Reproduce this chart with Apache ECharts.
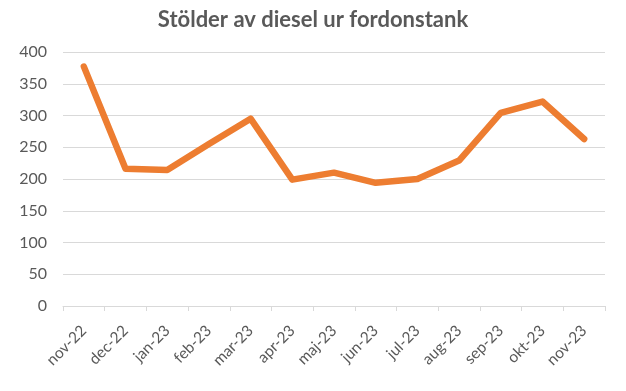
<!DOCTYPE html>
<html><head><meta charset="utf-8">
<script src="https://cdn.jsdelivr.net/npm/echarts@6/dist/echarts.min.js"></script>
<style>html,body{margin:0;padding:0;background:#fff}#c{width:626px;height:391px}</style>
</head><body><div id="c"></div>
<script>
var title = "Stölder av diesel ur fordonstank";
var categories = ["nov-22","dec-22","jan-23","feb-23","mar-23","apr-23","maj-23","jun-23","jul-23","aug-23","sep-23","okt-23","nov-23"];
var values = [377, 216, 214, 255, 295, 199, 210, 194, 200, 229, 304, 322, 263];
var yTicks = [0, 50, 100, 150, 200, 250, 300, 350, 400];

var chart = echarts.init(document.getElementById('c'), null, {renderer:'canvas'});
chart.setOption({
  animation: false,
  backgroundColor: '#fff',
  title: {
    text: title, left: 'center', top: 4,
    textStyle: {fontFamily: 'Lato', fontWeight: 'bold', fontSize: 22, color: '#595959'}
  },
  grid: {left: 63, right: 21, top: 52, bottom: 85, containLabel: false},
  xAxis: {
    type: 'category', data: categories, boundaryGap: true,
    axisLine: {lineStyle: {color: '#d9d9d9', width: 1}},
    axisTick: {show: true, alignWithLabel: false, length: 5, lineStyle: {color: '#d9d9d9'}},
    axisLabel: {rotate: 45, interval: 0, fontFamily: 'Lato', fontSize: 15.5, color: '#595959', margin: 22, padding: [16, 0, 0, 0]}
  },
  yAxis: {
    type: 'value', min: yTicks[0], max: yTicks[yTicks.length-1], interval: 50,
    axisLine: {show: false}, axisTick: {show: false},
    splitLine: {lineStyle: {color: '#d9d9d9', width: 1}},
    axisLabel: {fontFamily: 'Lato', fontSize: 16, color: '#595959', margin: 16}
  },
  series: [{
    type: 'line', data: values, symbol: 'none',
    lineStyle: {color: '#ED7D31', width: 6.5, cap: 'round', join: 'round'}
  }]
});
</script></body></html>
